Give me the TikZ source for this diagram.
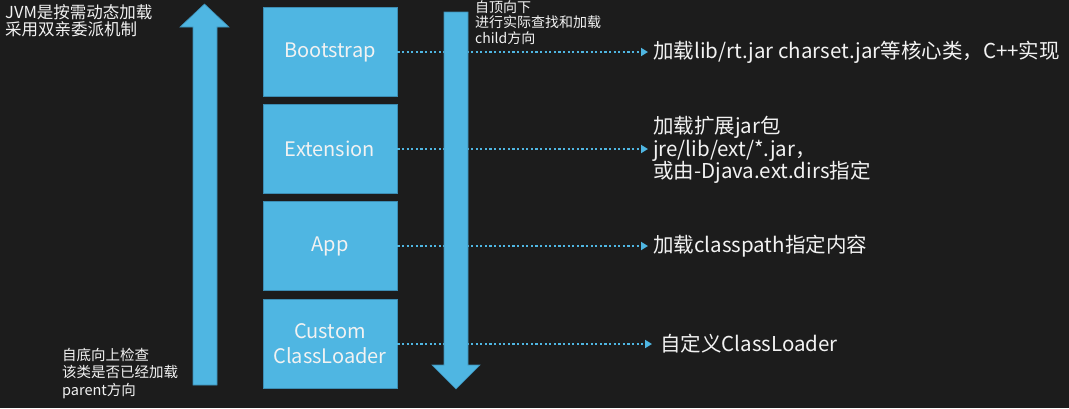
\documentclass[tikz,border=0pt]{standalone}
\usepackage{fontspec}
\setmainfont{Noto Sans CJK SC}
\usetikzlibrary{arrows.meta}
\definecolor{bg}{HTML}{1C1C1C}
\definecolor{jblue}{HTML}{4FB6E2}
\definecolor{jedge}{HTML}{3C8DB4}
\definecolor{txt}{HTML}{F2F2F2}
\tikzset{
  loader/.style={fill=jblue, draw=jedge, line width=0.8pt, minimum width=134pt, minimum height=89pt, text=txt, font=\fontsize{20}{25}\selectfont, align=center, inner sep=0pt},
  dotline/.style={jblue, line width=2.4pt, dash pattern=on 2.2pt off 2.4pt, -{Triangle[length=7pt,width=8pt]}},
  desc/.style={text=txt, anchor=west, align=left, font=\fontsize{20.5}{22.5}\selectfont, inner sep=0pt},
  note/.style={text=txt, anchor=north west, align=left, inner sep=0pt},
  bigarrow/.style={fill=jblue, draw=jedge, line width=0.6pt}
}
\begin{document}
\begin{tikzpicture}[x=1pt,y=-1pt]
\fill[bg] (0,0) rectangle (1069,408);
\useasboundingbox (0,0) rectangle (1069,408);
% boxes
\node[loader] (boot) at (330,52) {Bootstrap};
\node[loader] (ext) at (330,149) {Extension};
\node[loader] (app) at (330,246) {App};
\node[loader] (cust) at (330,344) {Custom\\ClassLoader};
% descriptions
\node[desc] (t1) at (653,52) {加载lib/rt.jar charset.jar等核心类，C++实现};
\node[desc] (t2) at (653,150) {加载扩展jar包\\jre/lib/ext/*.jar，\\或由-Djava.ext.dirs指定};
\node[desc] (t3) at (653,246) {加载classpath指定内容};
\node[desc] (t4) at (660,344) {自定义ClassLoader};
% dotted connectors
\draw[dotline, shorten >=5pt] (boot.east) -- (t1.west |- boot.east);
\draw[dotline, shorten >=5pt] (ext.east) -- (t2.west |- ext.east);
\draw[dotline, shorten >=5pt] (app.east) -- (t3.west |- app.east);
\draw[dotline, shorten >=8pt] (cust.east) -- (t4.west |- cust.east);
% big arrows
\filldraw[bigarrow] (193,385) -- (193,27) -- (180,27) -- (204.5,4) -- (229,27) -- (217,27) -- (217,385) -- cycle;
\filldraw[bigarrow] (444,12) -- (444,365) -- (432,365) -- (456,389) -- (480,365) -- (468,365) -- (468,12) -- cycle;
% notes
\node[note, font=\fontsize{16.5}{17.5}\selectfont] (n1) at (5,4) {JVM是按需动态加载\\采用双亲委派机制};
\node[note, font=\fontsize{14}{15.5}\selectfont] (n2) at (475,0.5) {自顶向下\\进行实际查找和加载\\child方向};
\node[note, font=\fontsize{14.5}{17.5}\selectfont] (n3) at (62,348) {自底向上检查\\该类是否已经加载\\parent方向};
\end{tikzpicture}
\end{document}
